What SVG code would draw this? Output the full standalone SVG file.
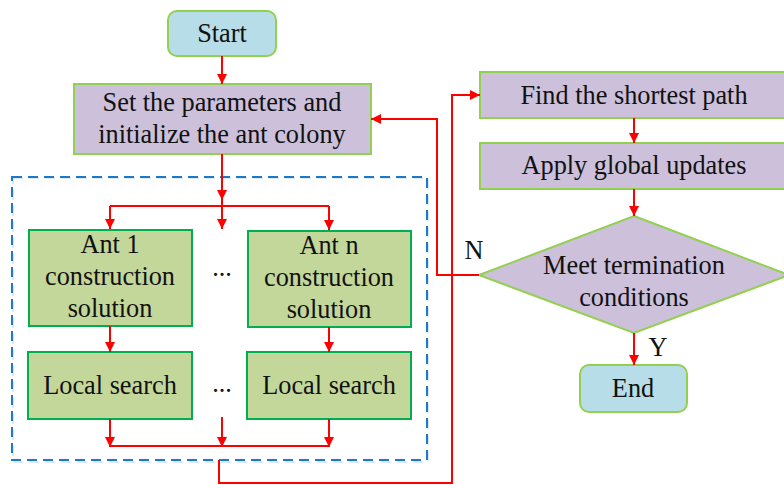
<svg xmlns="http://www.w3.org/2000/svg" width="784" height="485" viewBox="0 0 784 485">
<defs>
<marker id="ah" markerWidth="10" markerHeight="10" refX="10" refY="5" orient="auto" markerUnits="userSpaceOnUse">
<path d="M0,0 L10,5 L0,10 Z" fill="#ff0000"/>
</marker>
<style>
text{font-family:'Liberation Serif','Times New Roman','DejaVu Serif',serif;font-size:26.3px;fill:#111;text-anchor:middle}
.term{fill:#b7dde8;stroke:#92d050;stroke-width:2}
.proc{fill:#ccc0da;stroke:#92d050;stroke-width:2}
.ant{fill:#c4d79b;stroke:#00b050;stroke-width:2}
.c{fill:none;stroke:#ff0000;stroke-width:2}
.ca{fill:none;stroke:#ff0000;stroke-width:2;marker-end:url(#ah)}
</style>
</defs>
<rect width="784" height="485" fill="#ffffff"/>
<g id="group">
<rect x="13" y="178" width="415" height="284" fill="none" stroke="#dbe8f6" stroke-width="2" stroke-dasharray="10,6"/>
<rect x="12" y="177" width="415" height="283" fill="none" stroke="#1f78c8" stroke-width="2" stroke-dasharray="10,6"/>
</g>
<g id="start"><rect class="term" x="168" y="11" width="108" height="45" rx="9"/><text x="222" y="42">Start</text></g>
<g id="init"><rect class="proc" x="74" y="84" width="297" height="70"/><text x="222" y="111">Set the parameters and</text><text x="222" y="143">initialize the ant colony</text></g>
<g id="ant1"><rect class="ant" x="29" y="230" width="163" height="96"/><text x="110" y="253">Ant 1</text><text x="110" y="285">construction</text><text x="110" y="317">solution</text></g>
<g id="antn"><rect class="ant" x="248" y="231" width="163" height="96"/><text x="329" y="254">Ant n</text><text x="329" y="286">construction</text><text x="329" y="318">solution</text></g>
<g id="dots1"><text x="222" y="276">...</text></g>
<g id="ls1"><rect class="ant" x="28" y="352" width="164" height="67"/><text x="110" y="394">Local search</text></g>
<g id="lsn"><rect class="ant" x="247" y="352" width="164" height="67"/><text x="329" y="394">Local search</text></g>
<g id="dots2"><text x="222" y="392">...</text></g>
<g id="find"><rect class="proc" x="480" y="72" width="308" height="46"/><text x="634" y="104">Find the shortest path</text></g>
<g id="apply"><rect class="proc" x="480" y="143" width="308" height="46"/><text x="634" y="174">Apply global updates</text></g>
<g id="meet"><polygon class="proc" points="634,216 789,275 634,333 479,275"/><text x="634" y="274">Meet termination</text><text x="634" y="306">conditions</text></g>
<g id="end"><rect class="term" x="580" y="365" width="107" height="47" rx="9"/><text x="633" y="397">End</text></g>
<g id="labels"><text x="474" y="259">N</text><text x="658" y="356">Y</text></g>
<g id="connectors">
<line class="ca" x1="222" y1="56" x2="222" y2="84"/>
<line class="ca" x1="222" y1="154" x2="222" y2="200"/>
<polyline class="ca" points="110,206 110,229"/>
<line class="ca" x1="222" y1="200" x2="222" y2="229"/>
<polyline class="ca" points="329,206 329,230"/>
<line class="c" x1="110" y1="206" x2="329" y2="206"/>
<line class="ca" x1="110" y1="326" x2="110" y2="352"/>
<line class="ca" x1="329" y1="327" x2="329" y2="352"/>
<line class="ca" x1="110" y1="419" x2="110" y2="447"/>
<line class="ca" x1="222" y1="417" x2="222" y2="447"/>
<line class="ca" x1="329" y1="419" x2="329" y2="447"/>
<line class="c" x1="110" y1="446" x2="329" y2="446"/>
<polyline class="ca" points="219,460 219,483 452,483 452,95 480,95"/>
<line class="ca" x1="634" y1="118" x2="634" y2="143"/>
<line class="ca" x1="634" y1="189" x2="634" y2="216"/>
<polyline class="ca" points="479,275 437,275 437,119 371,119"/>
<line class="ca" x1="634" y1="333" x2="634" y2="365"/>
</g>
</svg>
